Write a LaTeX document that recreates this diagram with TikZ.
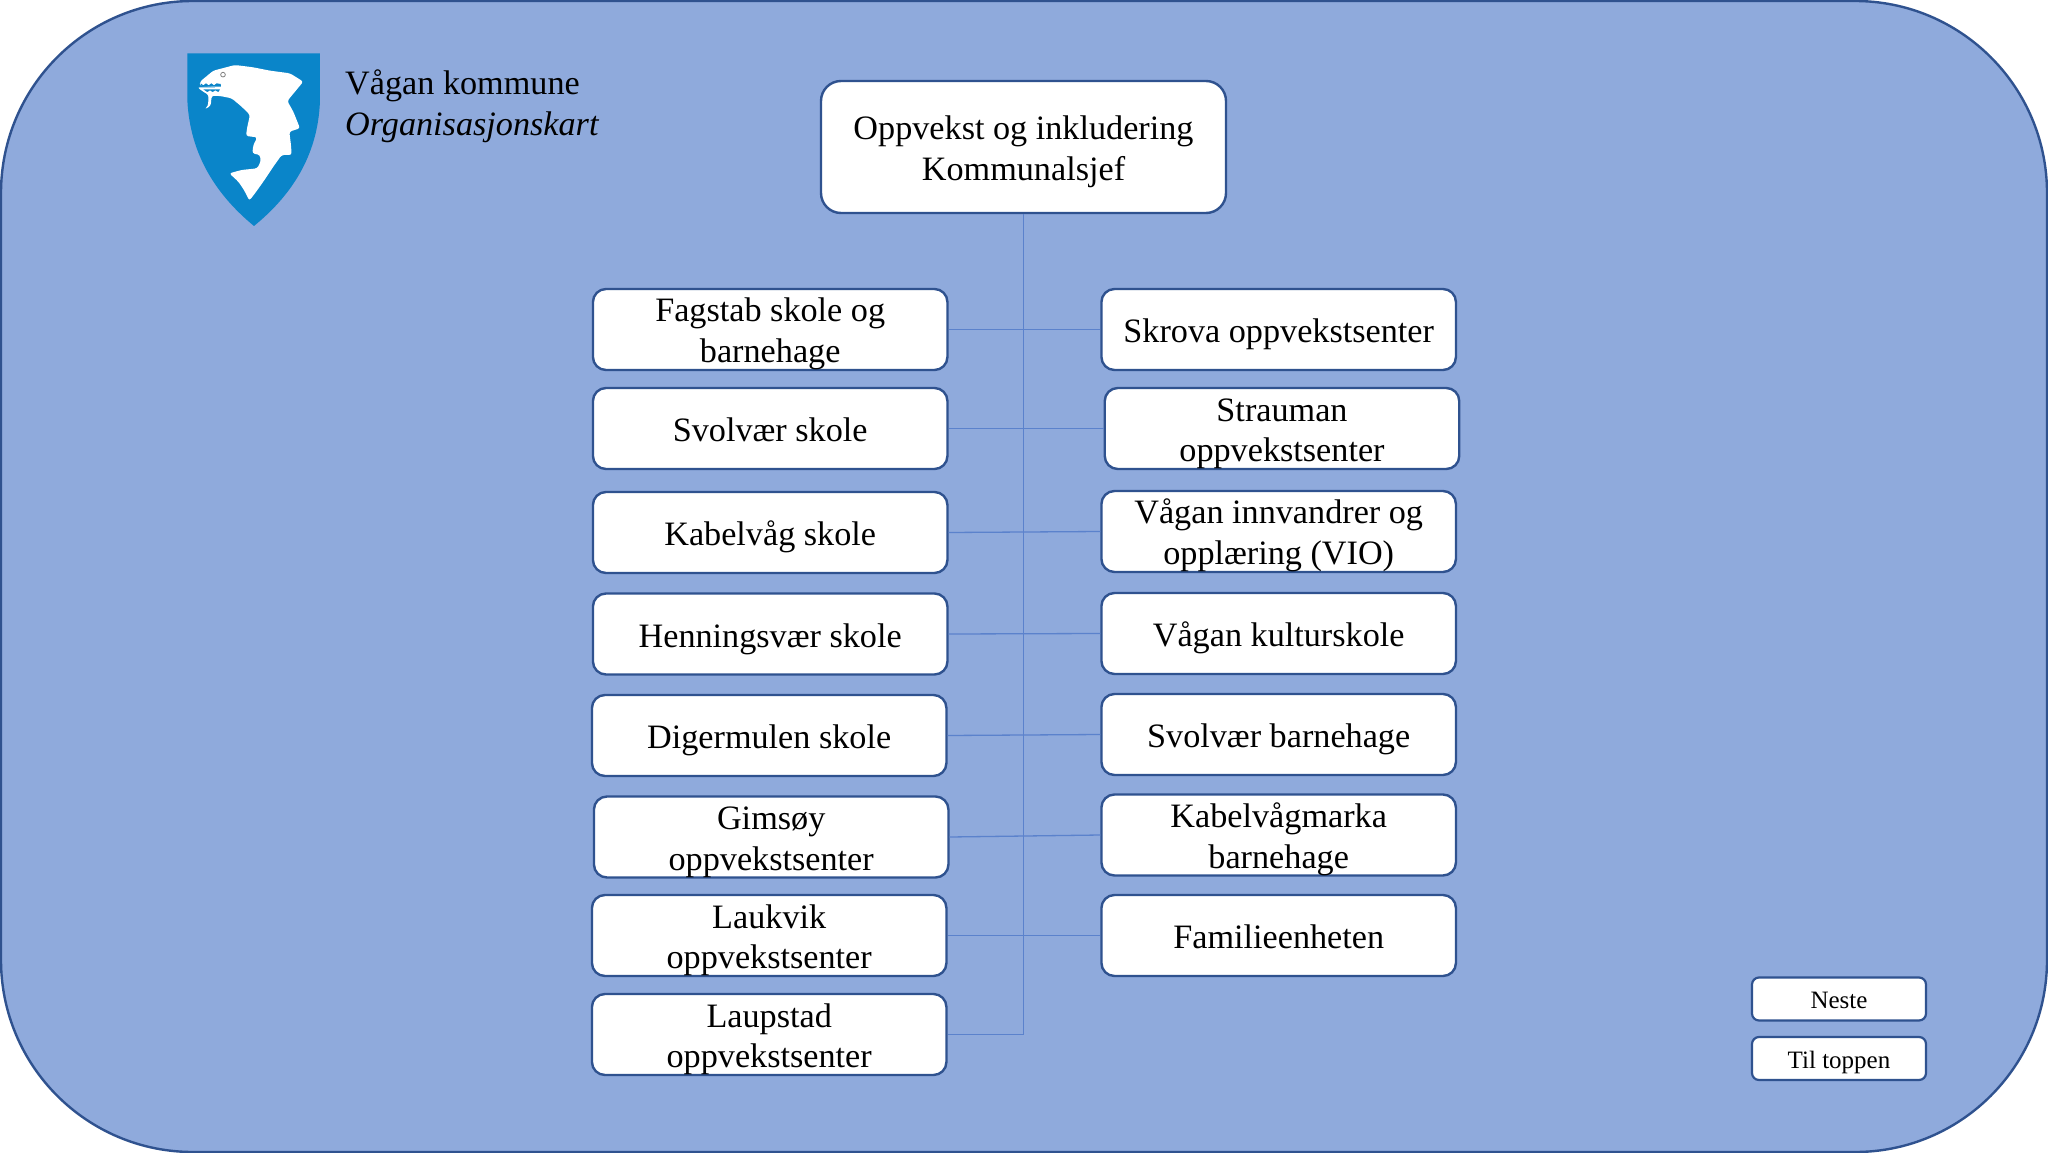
\documentclass[tikz,border=0pt]{standalone}
\usepackage{fontspec}
\setmainfont{Liberation Serif}
\definecolor{bgfill}{HTML}{8FAADC}
\definecolor{edgeblue}{HTML}{2F528F}
\definecolor{linkblue}{HTML}{5B82CC}
\definecolor{shieldblue}{HTML}{0A85C9}
\tikzset{
  basebox/.style={draw=edgeblue,fill=white,line width=2.4pt,rounded corners=13pt,inner sep=0pt,align=center,text=black,
    font=\fontsize{34.2}{40.6}\selectfont,minimum width=354.5pt,minimum height=81pt},
  unitbox/.style={basebox,execute at begin node={\rule[-7pt]{0pt}{80.5pt}}},
  oneline/.style={basebox,execute at begin node={\rule[-8pt]{0pt}{42pt}}},
  topbox/.style={unitbox,minimum width=405pt,minimum height=132pt,rounded corners=20pt},
  navbox/.style={basebox,minimum width=174pt,minimum height=43pt,rounded corners=7pt,line width=2.2pt,font=\fontsize{25}{30}\selectfont,
    execute at begin node={\rule[-6pt]{0pt}{31pt}}},
  link/.style={draw=linkblue,line width=1.3pt},
  headtext/.style={anchor=base west,inner sep=0pt,font=\fontsize{34.2}{40.6}\selectfont}
}
\begin{document}
\begin{tikzpicture}[x=1pt,y=-1pt]
\useasboundingbox (0,0) rectangle (2048,1153);
\fill[white] (0,0) rectangle (2048,1153);
\draw[fill=bgfill,draw=edgeblue,line width=2.4pt,rounded corners=192pt] (1,1) rectangle (2047,1152);
% shield
\begin{scope}[shift={(170,30)},x=0.3333pt,y=-0.3333pt]
\fill[shieldblue] (52,70) -- (450,70) -- (450,210) .. controls (445,380) and (360,500) .. (252,588) .. controls (145,500) and (60,380) .. (52,210) -- cycle;
\fill[white,rounded corners=2.5pt] (90,155) -- (130,122) -- (195,105) -- (250,112) -- (300,122) -- (360,130) -- (400,155)
 -- (375,185) -- (352,213) -- (370,245) -- (390,295) -- (358,305) -- (363,345) -- (365,375) -- (335,375)
 -- (310,410) -- (280,455) -- (255,490) -- (238,512) -- (222,480) -- (205,455) -- (178,430) -- (215,420) -- (262,415)
 -- (272,395) -- (270,375) -- (247,370) -- (250,345) -- (262,322) -- (228,318) -- (232,290) -- (240,255) -- (215,230)
 -- (185,205) -- (150,198) -- (125,197) -- (122,228) -- (103,238) -- (114,228) -- (116,195) -- (98,184) -- (82,172)
 -- (150,172) -- (90,168) -- cycle;
\fill[shieldblue] (92,160) -- (100,166) -- (108,160) -- (116,166) -- (124,160) -- (132,166) -- (140,160) -- (152,162) -- (153,170) -- (95,170) -- cycle;
\fill[shieldblue] (100,178) -- (150,178) -- (145,186) -- (136,181) -- (128,186) -- (120,181) -- (112,186) -- cycle;
\draw[gray,line width=0.8pt,fill=white] (159,134) circle (7);
\end{scope}
\node[headtext] (kommune) at (345,95) {Vågan kommune};
\node[headtext] (kart) at (345,135.5) {\itshape Organisasjonskart};
% units
\node[topbox] (top) at (1023.5,147) {Oppvekst og inkludering\\Kommunalsjef};
\node[unitbox] (l1) at (770.2,329.5) {Fagstab skole og\\barnehage};
\node[oneline] (l2) at (770.2,428.5) {Svolvær skole};
\node[oneline] (l3) at (770.2,532.5) {Kabelvåg skole};
\node[oneline] (l4) at (770.2,634) {Henningsvær skole};
\node[oneline] (l5) at (769.2,735.5) {Digermulen skole};
\node[unitbox] (l6) at (771.2,837) {Gimsøy\\oppvekstsenter};
\node[unitbox] (l7) at (769.2,935.5) {Laukvik\\oppvekstsenter};
\node[unitbox] (l8) at (769.2,1034.5) {Laupstad\\oppvekstsenter};
\node[oneline] (r1) at (1278.7,329.5) {Skrova oppvekstsenter};
\node[unitbox] (r2) at (1282,428.5) {Strauman\\oppvekstsenter};
\node[unitbox] (r3) at (1278.7,531.5) {Vågan innvandrer og\\opplæring (VIO)};
\node[oneline] (r4) at (1278.7,633.5) {Vågan kulturskole};
\node[oneline] (r5) at (1278.7,734.5) {Svolvær barnehage};
\node[unitbox] (r6) at (1278.7,835) {Kabelvågmarka\\barnehage};
\node[oneline] (r7) at (1278.7,935.5) {Familieenheten};
\node[navbox] (neste) at (1839,999) {Neste};
\node[navbox] (toppen) at (1839,1058.5) {Til toppen};
% connectors
\draw[link] (top.south) |- (l8.east);
\foreach \i in {1,...,7} {\draw[link] (l\i.east) -- (r\i.west);}
\end{tikzpicture}
\end{document}
